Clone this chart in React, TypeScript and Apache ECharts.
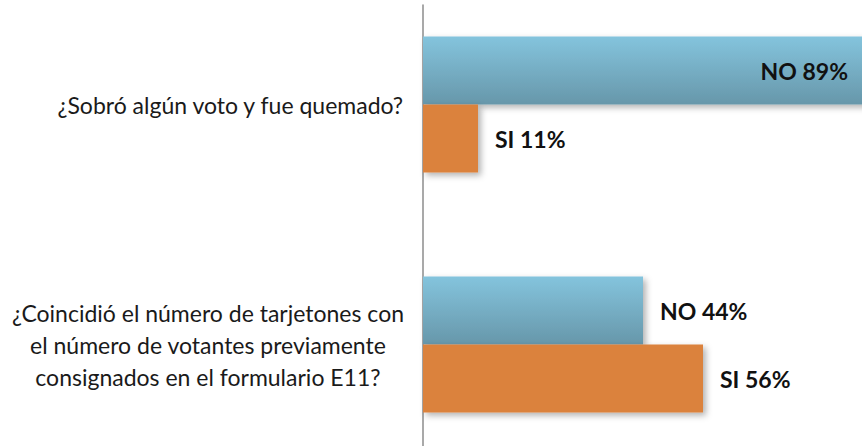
import React, { useEffect, useRef } from "react";
import * as echarts from "echarts";

const categories = [
  "¿Sobró algún voto y fue quemado?",
  "¿Coincidió el número de tarjetones con\nel número de votantes previamente\nconsignados en el formulario E11?",
];
const noValues = [89, 44];
const siValues = [11, 56];
const noLabel = "NO";
const siLabel = "SI";
const axisMax = 100;

const FONT = "Lato";

export default function App() {
  const ref = useRef<HTMLDivElement>(null);
  useEffect(() => {
    if (!ref.current) return;
    const chart = echarts.init(ref.current, null, { renderer: "svg" });
    const valueLabel = {
      show: true,
      position: "right",
      distance: 17,
      fontFamily: FONT,
      fontWeight: "bold",
      fontSize: 23,
      color: "#111",
    };
    const shadow = {
      shadowBlur: 6,
      shadowOffsetX: 3,
      shadowOffsetY: 3,
      shadowColor: "rgba(0,0,0,0.3)",
    };
    const mkData = (vals: number[]) =>
      vals.map((v) =>
        v > 80 ? { value: v, label: { position: "insideRight", distance: 20 } } : v
      );
    chart.setOption({
      animation: false,
      grid: [
        { left: 423, top: -15.5, height: 480, width: 500, outerBoundsMode: "none", containLabel: false },
        { left: 423, top: 5, height: 460, width: 500, outerBoundsMode: "none", containLabel: false },
      ],
      xAxis: [
        { type: "value", gridIndex: 0, min: 0, max: axisMax, show: false },
        { type: "value", gridIndex: 1, min: 0, max: axisMax, show: false },
      ],
      yAxis: [
        {
          type: "category",
          gridIndex: 0,
          data: categories,
          inverse: true,
          axisLine: { show: false },
          axisTick: { show: false },
          axisLabel: {
            margin: 19,
            fontFamily: FONT,
            fontSize: 23,
            color: "#1a1a1a",
            lineHeight: 32,
            formatter: (v: string) =>
              v
                .split("\n")
                .map((l) => "{c|" + l + "}")
                .join("\n"),
            rich: {
              c: {
                align: "center",
                fontFamily: FONT,
                fontSize: 23,
                color: "#1a1a1a",
                lineHeight: 32,
              },
            },
          },
        },
        {
          type: "value",
          gridIndex: 1,
          min: 0,
          max: 1,
          axisLine: { show: true, lineStyle: { color: "#8c8c8c", width: 1.5 } },
          axisTick: { show: false },
          axisLabel: { show: false },
          splitLine: { show: false },
        },
      ],
      series: [
        {
          name: noLabel,
          type: "bar",
          xAxisIndex: 0,
          yAxisIndex: 0,
          data: mkData(noValues),
          barWidth: 68,
          barGap: "0%",
          itemStyle: {
            color: new echarts.graphic.LinearGradient(0, 0, 0, 1, [
              { offset: 0, color: "#84c4dd" },
              { offset: 1, color: "#6797aa" },
            ]),
            ...shadow,
          },
          label: { ...valueLabel, formatter: (p: any) => `${noLabel} ${p.value}%` },
        },
        {
          name: siLabel,
          type: "bar",
          xAxisIndex: 0,
          yAxisIndex: 0,
          data: mkData(siValues),
          barWidth: 68,
          barGap: "0%",
          itemStyle: { color: "#db823c", ...shadow },
          label: { ...valueLabel, formatter: (p: any) => `${siLabel} ${p.value}%` },
        },
      ],
    });
    return () => chart.dispose();
  }, []);
  return (
    <div
      ref={ref}
      style={{ position: "fixed", left: 0, top: 0, width: 862, height: 446, background: "#fff" }}
    />
  );
}
